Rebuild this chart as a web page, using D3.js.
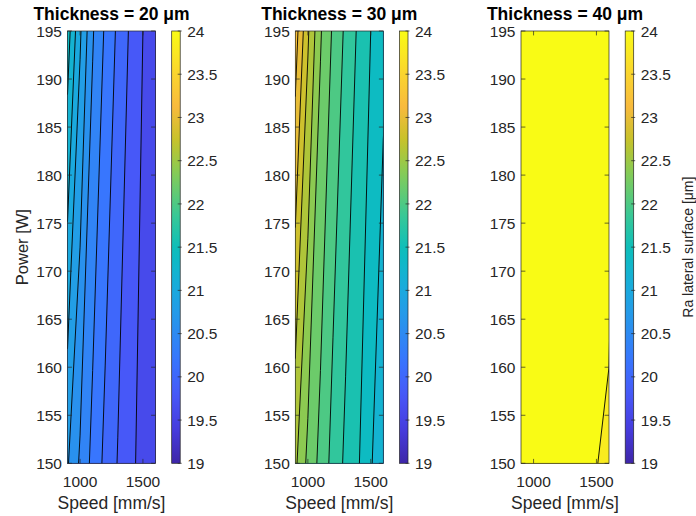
<!DOCTYPE html>
<html lang="en">
<head>
<meta charset="UTF-8">
<title>Ra lateral surface</title>
<script src="https://d3js.org/d3.v7.min.js"></script>
<style>
  body { margin: 0; background: #fff; }
  svg { display: block; font-family: "Liberation Sans", Arial, sans-serif; }
</style>
</head>
<body>
<script>
const speeds = [900, 1000, 1100, 1200, 1300, 1400, 1500, 1600];
const powers = [150, 195];
const thicknesses = [20, 30, 40];

// Ra grid values, one row per power (150 W then 195 W)
const ra20_150 = [20.82, 20.57, 20.34, 20.15, 19.99, 19.85, 19.73, 19.62];
const ra20_195 = [21.50, 21.03, 20.62, 20.37, 20.16, 19.97, 19.80, 19.65];
const ra30_150 = [22.64, 22.35, 22.14, 21.93, 21.76, 21.62, 21.42, 21.25];
const ra30_195 = [23.30, 22.83, 22.42, 22.17, 21.96, 21.77, 21.60, 21.45];
const ra40_150 = [25.20, 24.95, 24.70, 24.50, 24.30, 24.15, 24.005, 23.96];
const ra40_195 = [25.90, 25.40, 25.00, 24.75, 24.55, 24.37, 24.20, 24.14];

const levels = [19, 19.2, 19.4, 19.6, 19.8, 20, 20.2, 20.4, 20.6, 20.8, 21, 21.2, 21.4,
                21.6, 21.8, 22, 22.2, 22.4, 22.6, 22.8, 23, 23.2, 23.4, 23.6, 23.8, 24];
const powerTicks = [150, 155, 160, 165, 170, 175, 180, 185, 190, 195];
const speedTicks = [1000, 1500];
const cbarTicks = [19, 19.5, 20, 20.5, 21, 21.5, 22, 22.5, 23, 23.5, 24];

const grids = [[ra20_150, ra20_195], [ra30_150, ra30_195], [ra40_150, ra40_195]];

const W = 696, H = 516;
const plotTop = 31, plotBottom = 463.3, pw = 88;
const panelLeft = [67.5, 295.3, 521];
const cbarGap = 104.2, cbarW = 8.5;
const ink = "#262626";

// parula, sampled from the 64-entry map
const parulaStops = [0, 5, 10, 15, 21, 26, 31, 36, 42, 47, 52, 57, 63].map(k => k / 63);
const parulaColors = ["#3e26a8", "#463cde", "#4758f8", "#3875fe", "#2796eb", "#18addb",
  "#0bbdbd", "#37c897", "#81cc59", "#c5c22a", "#f8ba3d", "#fad62d", "#f9fb15"];
const parula = d3.scaleLinear().domain(parulaStops).range(parulaColors)
  .interpolate(d3.interpolateRgb).clamp(true);
const color = d3.scaleLinear().domain([19, 24]).range([0, 1]).clamp(true);

const svg = d3.select("body").append("svg").attr("width", W).attr("height", H);
const defs = svg.append("defs");

// colorbar gradient
const grad = defs.append("linearGradient").attr("id", "cbar")
  .attr("x1", 0).attr("y1", 1).attr("x2", 0).attr("y2", 0);
d3.range(0, 1.0001, 0.025).forEach(t => {
  grad.append("stop").attr("offset", t).attr("stop-color", parula(t));
});

const y = d3.scaleLinear().domain([150, 195]).range([plotBottom, plotTop]);

thicknesses.forEach((t, i) => {
  const x0 = panelLeft[i];
  const x = d3.scaleLinear().domain([900, 1600]).range([x0, x0 + pw]);
  const g = svg.append("g");

  defs.append("clipPath").attr("id", "clip" + i)
    .append("rect").attr("x", x0).attr("y", plotTop)
    .attr("width", pw).attr("height", plotBottom - plotTop);

  // grid index -> data coords
  const gx = d3.scaleLinear().domain([0.5, speeds.length - 0.5])
    .range([x(speeds[0]), x(speeds[speeds.length - 1])]);
  const gy = d3.scaleLinear().domain([0.5, powers.length - 0.5])
    .range([y(powers[0]), y(powers[powers.length - 1])]);
  const path = d3.geoPath(d3.geoTransform({
    point(px, py) { this.stream.point(gx(px), gy(py)); }
  }));

  const values = grids[i][0].concat(grids[i][1]);
  const contours = d3.contours().size([speeds.length, powers.length]).thresholds(levels)(values);
  const lo = d3.min(values), hi = d3.max(values);

  const plot = g.append("g").attr("clip-path", `url(#clip${i})`);
  plot.append("rect").attr("x", x0).attr("y", plotTop)
    .attr("width", pw).attr("height", plotBottom - plotTop)
    .attr("fill", parula(color(lo)));
  plot.selectAll("path.fill").data(contours).join("path")
    .attr("class", "fill")
    .attr("d", path)
    .attr("fill", d => parula(color(d.value)));
  plot.selectAll("path.line").data(contours.filter(c => c.value > lo && c.value < hi))
    .join("path")
    .attr("class", "line")
    .attr("d", path)
    .attr("fill", "none")
    .attr("stroke", "#000")
    .attr("stroke-width", 0.9);

  // box
  g.append("rect").attr("x", x0).attr("y", plotTop)
    .attr("width", pw).attr("height", plotBottom - plotTop)
    .attr("fill", "none").attr("stroke", ink).attr("stroke-width", 0.7);

  const tl = 4.4;
  powerTicks.forEach(p => {
    g.append("line").attr("x1", x0).attr("x2", x0 + tl).attr("y1", y(p)).attr("y2", y(p))
      .attr("stroke", ink).attr("stroke-width", 0.7);
    g.append("line").attr("x1", x0 + pw).attr("x2", x0 + pw - tl).attr("y1", y(p)).attr("y2", y(p))
      .attr("stroke", ink).attr("stroke-width", 0.7);
    g.append("text").attr("x", x0 - 5.5).attr("y", y(p)).attr("dy", "0.36em")
      .attr("text-anchor", "end").attr("font-size", 15.5).attr("fill", ink).text(p);
  });
  speedTicks.forEach(s => {
    g.append("line").attr("x1", x(s)).attr("x2", x(s)).attr("y1", plotBottom).attr("y2", plotBottom - tl)
      .attr("stroke", ink).attr("stroke-width", 0.7);
    g.append("line").attr("x1", x(s)).attr("x2", x(s)).attr("y1", plotTop).attr("y2", plotTop + tl)
      .attr("stroke", ink).attr("stroke-width", 0.7);
    g.append("text").attr("x", x(s)).attr("y", 487)
      .attr("text-anchor", "middle").attr("font-size", 15.5).attr("fill", ink).text(s);
  });

  g.append("text").attr("x", x0 + pw / 2).attr("y", 509)
    .attr("text-anchor", "middle").attr("font-size", 17.5).attr("fill", ink).text("Speed [mm/s]");
  g.append("text").attr("x", x0 + pw / 2).attr("y", 20)
    .attr("text-anchor", "middle").attr("font-size", 17.5).attr("font-weight", "bold")
    .attr("fill", "#000").text(`Thickness = ${t} μm`);

  // colorbar
  const cx = x0 + cbarGap;
  const cy = d3.scaleLinear().domain([19, 24]).range([plotBottom, plotTop]);
  g.append("rect").attr("x", cx).attr("y", plotTop).attr("width", cbarW)
    .attr("height", plotBottom - plotTop).attr("fill", "url(#cbar)")
    .attr("stroke", ink).attr("stroke-width", 0.7);
  cbarTicks.forEach(v => {
    g.append("line").attr("x1", cx + cbarW - 2.5).attr("x2", cx + cbarW + 1.5)
      .attr("y1", cy(v)).attr("y2", cy(v)).attr("stroke", ink).attr("stroke-width", 0.7);
    g.append("text").attr("x", cx + cbarW + 7).attr("y", cy(v)).attr("dy", "0.36em")
      .attr("font-size", 15.5).attr("fill", ink).text(v);
  });
});

svg.append("text").attr("transform", `translate(28,${(plotTop + plotBottom) / 2}) rotate(-90)`)
  .attr("text-anchor", "middle").attr("font-size", 16.5).attr("fill", ink).text("Power [W]");
svg.append("text").attr("transform", `translate(693,${(plotTop + plotBottom) / 2}) rotate(-90)`)
  .attr("text-anchor", "middle").attr("font-size", 14).attr("fill", ink).text("Ra lateral surface [μm]");
</script>
</body>
</html>
